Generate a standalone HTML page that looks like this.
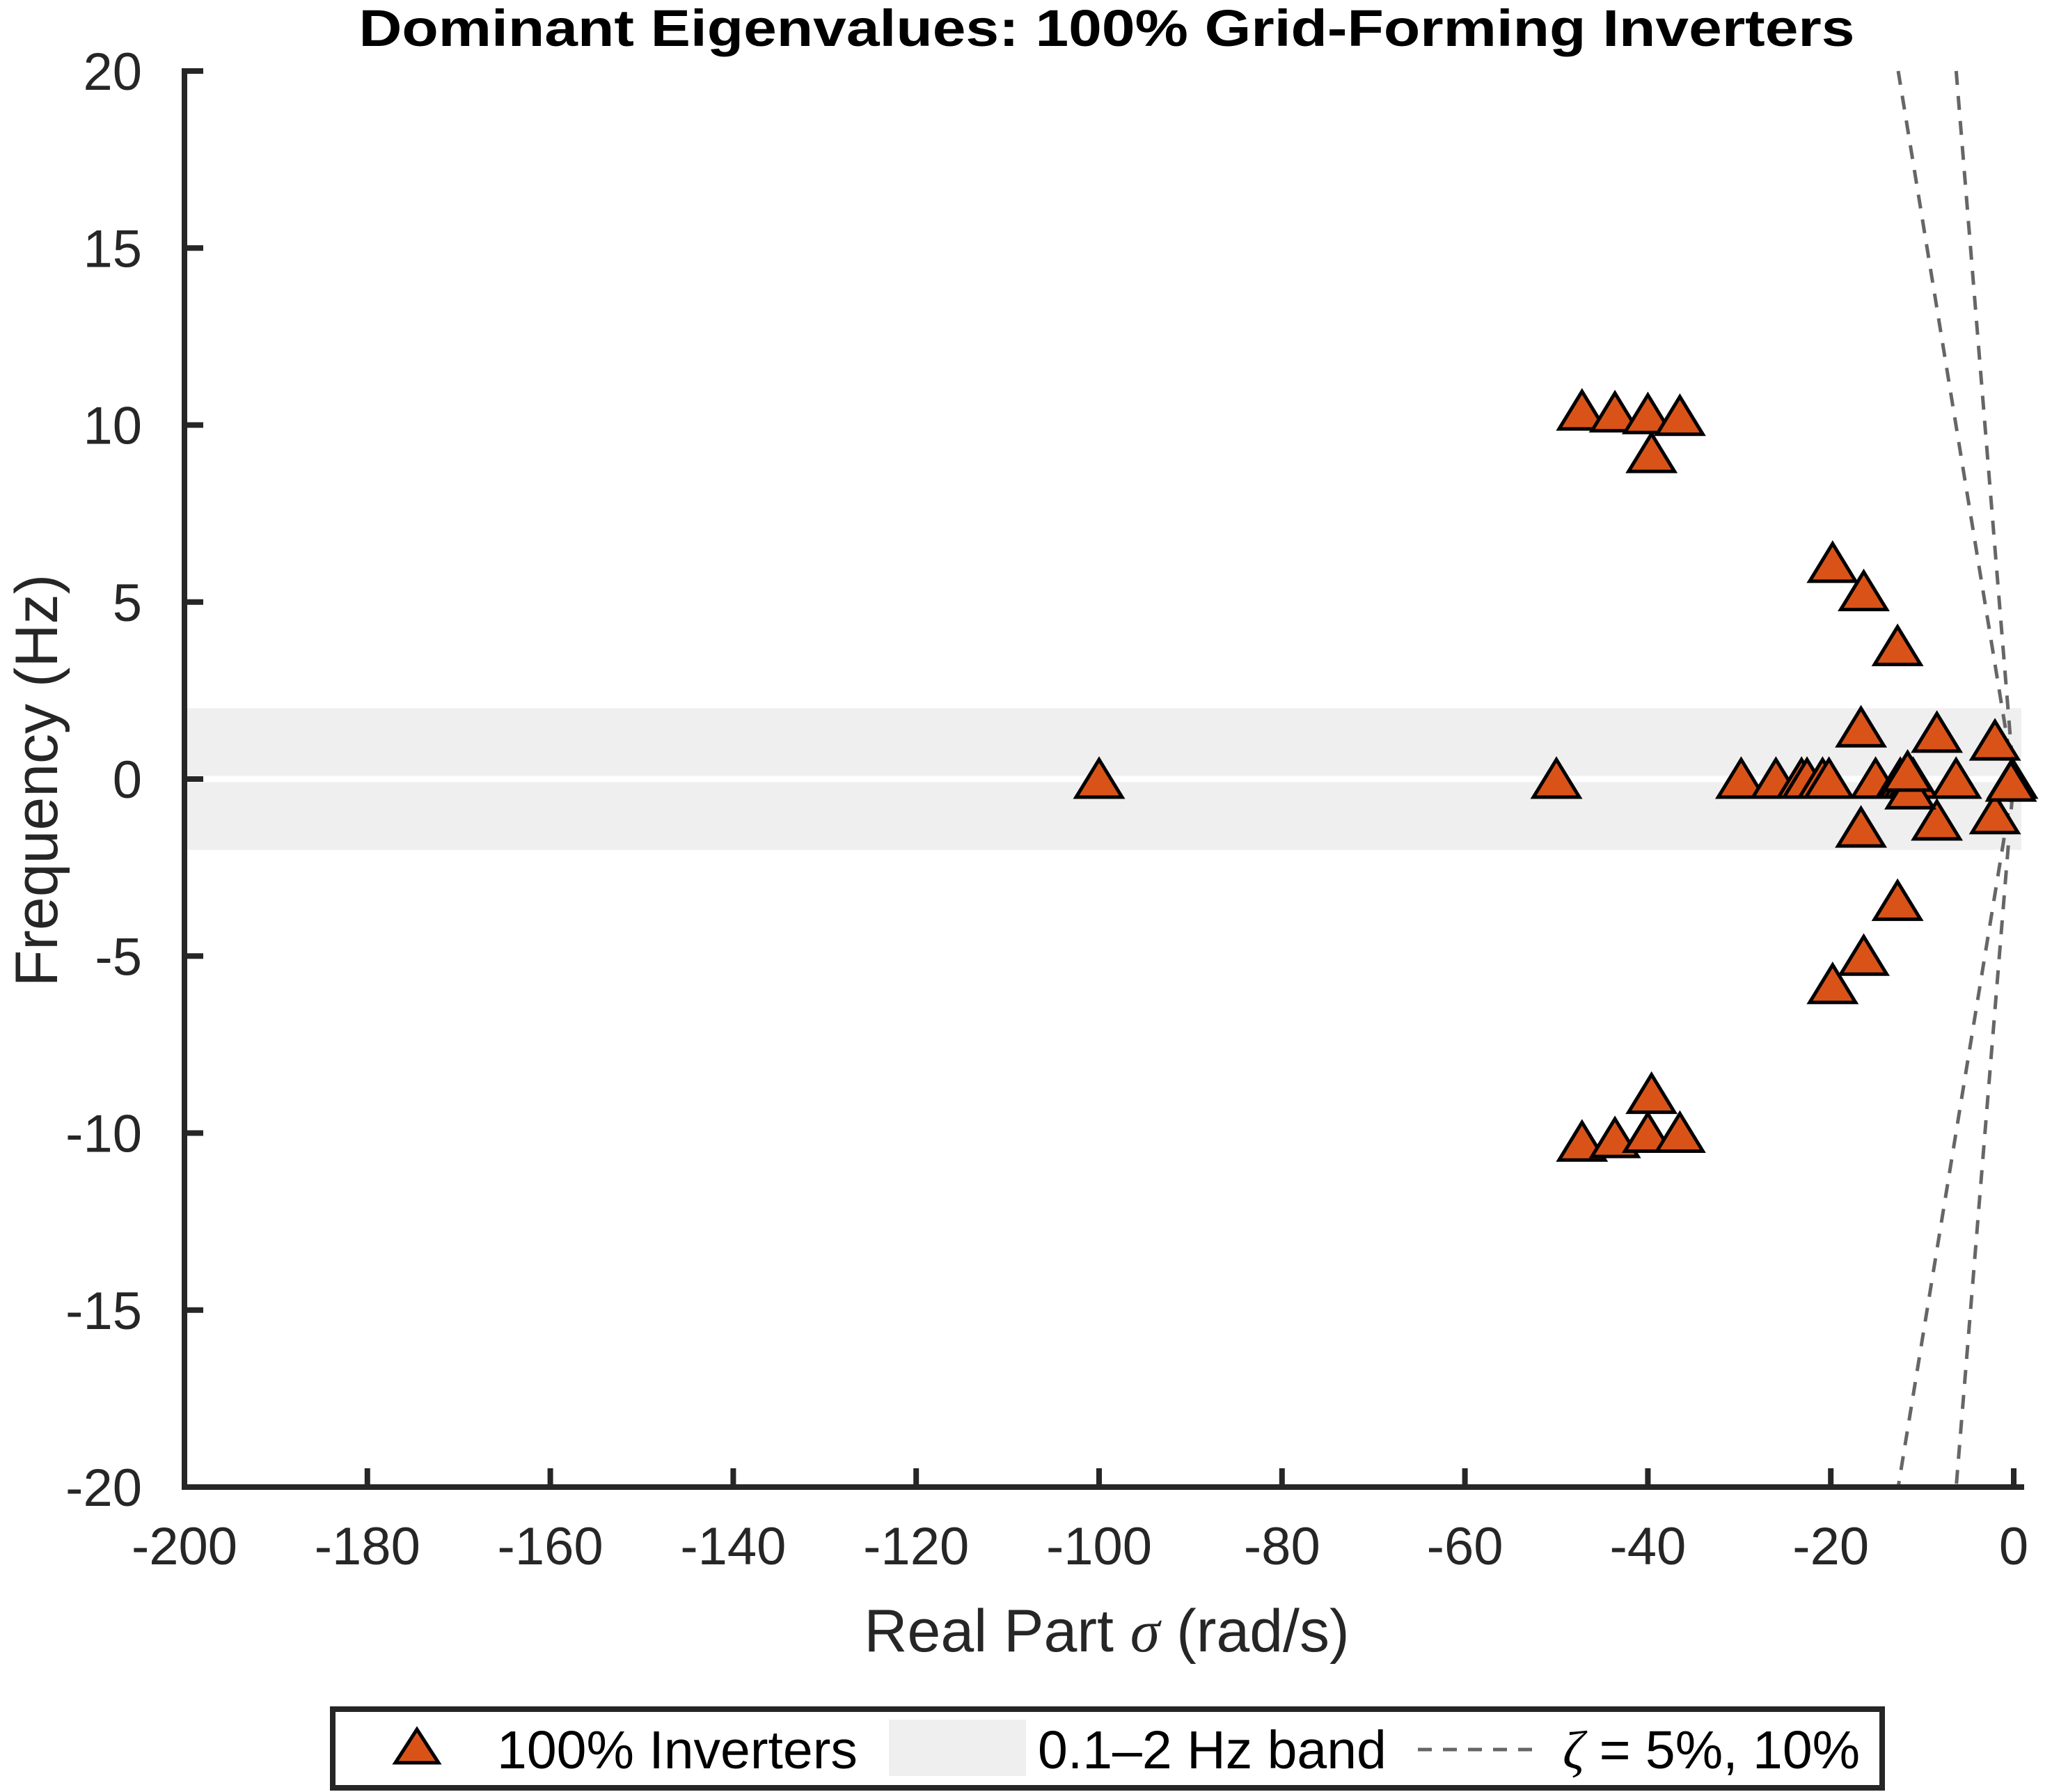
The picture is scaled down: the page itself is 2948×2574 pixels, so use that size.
<!DOCTYPE html>
<html><head><meta charset="utf-8"><style>
html,body{margin:0;padding:0;background:#fff;}
svg{display:block;font-family:"Liberation Sans",Arial,sans-serif;}
</style></head><body>
<svg id="chart" width="2948" height="2574" viewBox="0 0 2948 2574">
<g id="plot"></g>
</svg>
<script>
const xTicks=[-200,-180,-160,-140,-120,-100,-80,-60,-40,-20,0];
const yTicks=[-20,-15,-10,-5,0,5,10,15,20];
const realParts=[-47.2,-43.6,-40,-36.5,-39.6,-47.2,-43.6,-40,-36.5,-39.6,-100,-50,-19.8,-16.4,-12.7,-19.8,-16.4,-12.7,-16.7,-16.7,-8.4,-8.4,-2.05,-2.05,-29.8,-26.0,-23.2,-22.6,-20.9,-20.2,-15.1,-12.4,-12.0,-11.5,-11.0,-6.3,-0.15,-11.3,-11.6,-0.3];
const freqs=[10.4,10.35,10.3,10.25,9.2,-10.25,-10.15,-10.0,-10.0,-8.9,0,0,6.1,5.3,3.75,-5.8,-5.0,-3.45,1.45,-1.38,1.3,-1.18,1.08,-1.0,0,0,0,0,0,0,0,0,0,0,0,0,0,-0.3,0.2,-0.08];
const zetas=[0.05,0.10];
const band=[-2,2];
const NS='http://www.w3.org/2000/svg';
const X0=265,X1=2893,Y0=102,Y1=2136;
const xs=v=>X0+(v+200)/200*(X1-X0);
const ys=v=>Y1-(v+20)/40*(Y1-Y0);
const g=document.getElementById('plot');
function mk(tag,attrs,parent){const e=document.createElementNS(NS,tag);for(const k in attrs)e.setAttribute(k,attrs[k]);(parent||g).appendChild(e);return e;}
let b=mk('rect',{x:X0,y:ys(band[1]),width:2904-X0,height:ys(band[0])-ys(band[1]),fill:'#efefef'});


let zl=mk('line',{x1:X0,x2:2904,y1:ys(0),y2:ys(0),stroke:'#fff','stroke-width':9});


zetas.forEach((z,i)=>{
  const k=z/Math.sqrt(1-z*z)*2*Math.PI;
  const l=mk('polyline',{points:`${xs(-k*20)},${ys(20)} ${xs(0)},${ys(0)} ${xs(-k*20)},${ys(-20)}`,fill:'none',stroke:'#666','stroke-width':5,'stroke-dasharray':'20,16'});
  
  
});
realParts.forEach((r,i)=>{
  const cx=xs(r),cy=ys(freqs[i]);
  const t=mk('polygon',{points:`${cx},${cy-28} ${cx-33},${cy+26} ${cx+33},${cy+26}`,fill:'#D95319',stroke:'#000','stroke-width':5,'stroke-linejoin':'miter'});
  
  
});
let ax=mk('path',{d:`M${X0},${Y0} L${X0},${Y1} L2904,${Y1}`,fill:'none',stroke:'#262626','stroke-width':8,'stroke-linecap':'square'});


xTicks.forEach(v=>{
  const tk=mk('line',{x1:xs(v),x2:xs(v),y1:Y1,y2:Y1-27,stroke:'#262626','stroke-width':8});
  
  
  const tl=mk('text',{x:xs(v),y:2247,'text-anchor':'middle','font-size':76,fill:'#262626'});
  tl.textContent=String(v);
  
  
});
yTicks.forEach(v=>{
  const tk=mk('line',{x1:X0,x2:X0+27,y1:ys(v),y2:ys(v),stroke:'#262626','stroke-width':8});
  
  
  const tl=mk('text',{x:204,y:ys(v)+27,'text-anchor':'end','font-size':76,fill:'#262626'});
  tl.textContent=String(v);
  
  
});
</script>
<svg x="0" y="0" width="2948" height="2574" style="position:absolute;left:0;top:0">
<text x="1590" y="66" text-anchor="middle" font-size="74" font-weight="bold" fill="#000" textLength="2149" lengthAdjust="spacingAndGlyphs">Dominant Eigenvalues: 100% Grid-Forming Inverters</text>
<text x="1590" y="2372" text-anchor="middle" font-size="86" fill="#262626">Real Part <tspan font-family="Liberation Serif" font-style="italic">σ</tspan> (rad/s)</text>
<text transform="translate(82,1121) rotate(-90)" text-anchor="middle" font-size="86" fill="#262626">Frequency (Hz)</text>
<g>
<rect x="478" y="2455" width="2226" height="113" fill="#fff" stroke="#262626" stroke-width="8"/>
<polygon points="599,2484 568,2532 630,2532" fill="#D95319" stroke="#000" stroke-width="5"/>
<text x="714" y="2540" font-size="77" fill="#000">100% Inverters</text>
<rect x="1277" y="2470" width="197" height="81" fill="#efefef"/>
<text x="1491" y="2540" font-size="77" fill="#000">0.1–2 Hz band</text>
<line x1="2037" y1="2513" x2="2211" y2="2513" stroke="#666" stroke-width="5" stroke-dasharray="20,16"/>
<text x="2245" y="2540" font-size="77" fill="#000"><tspan font-family="Liberation Serif" font-style="italic">ζ</tspan> = 5%, 10%</text>
</g>
</svg>
</body></html>
